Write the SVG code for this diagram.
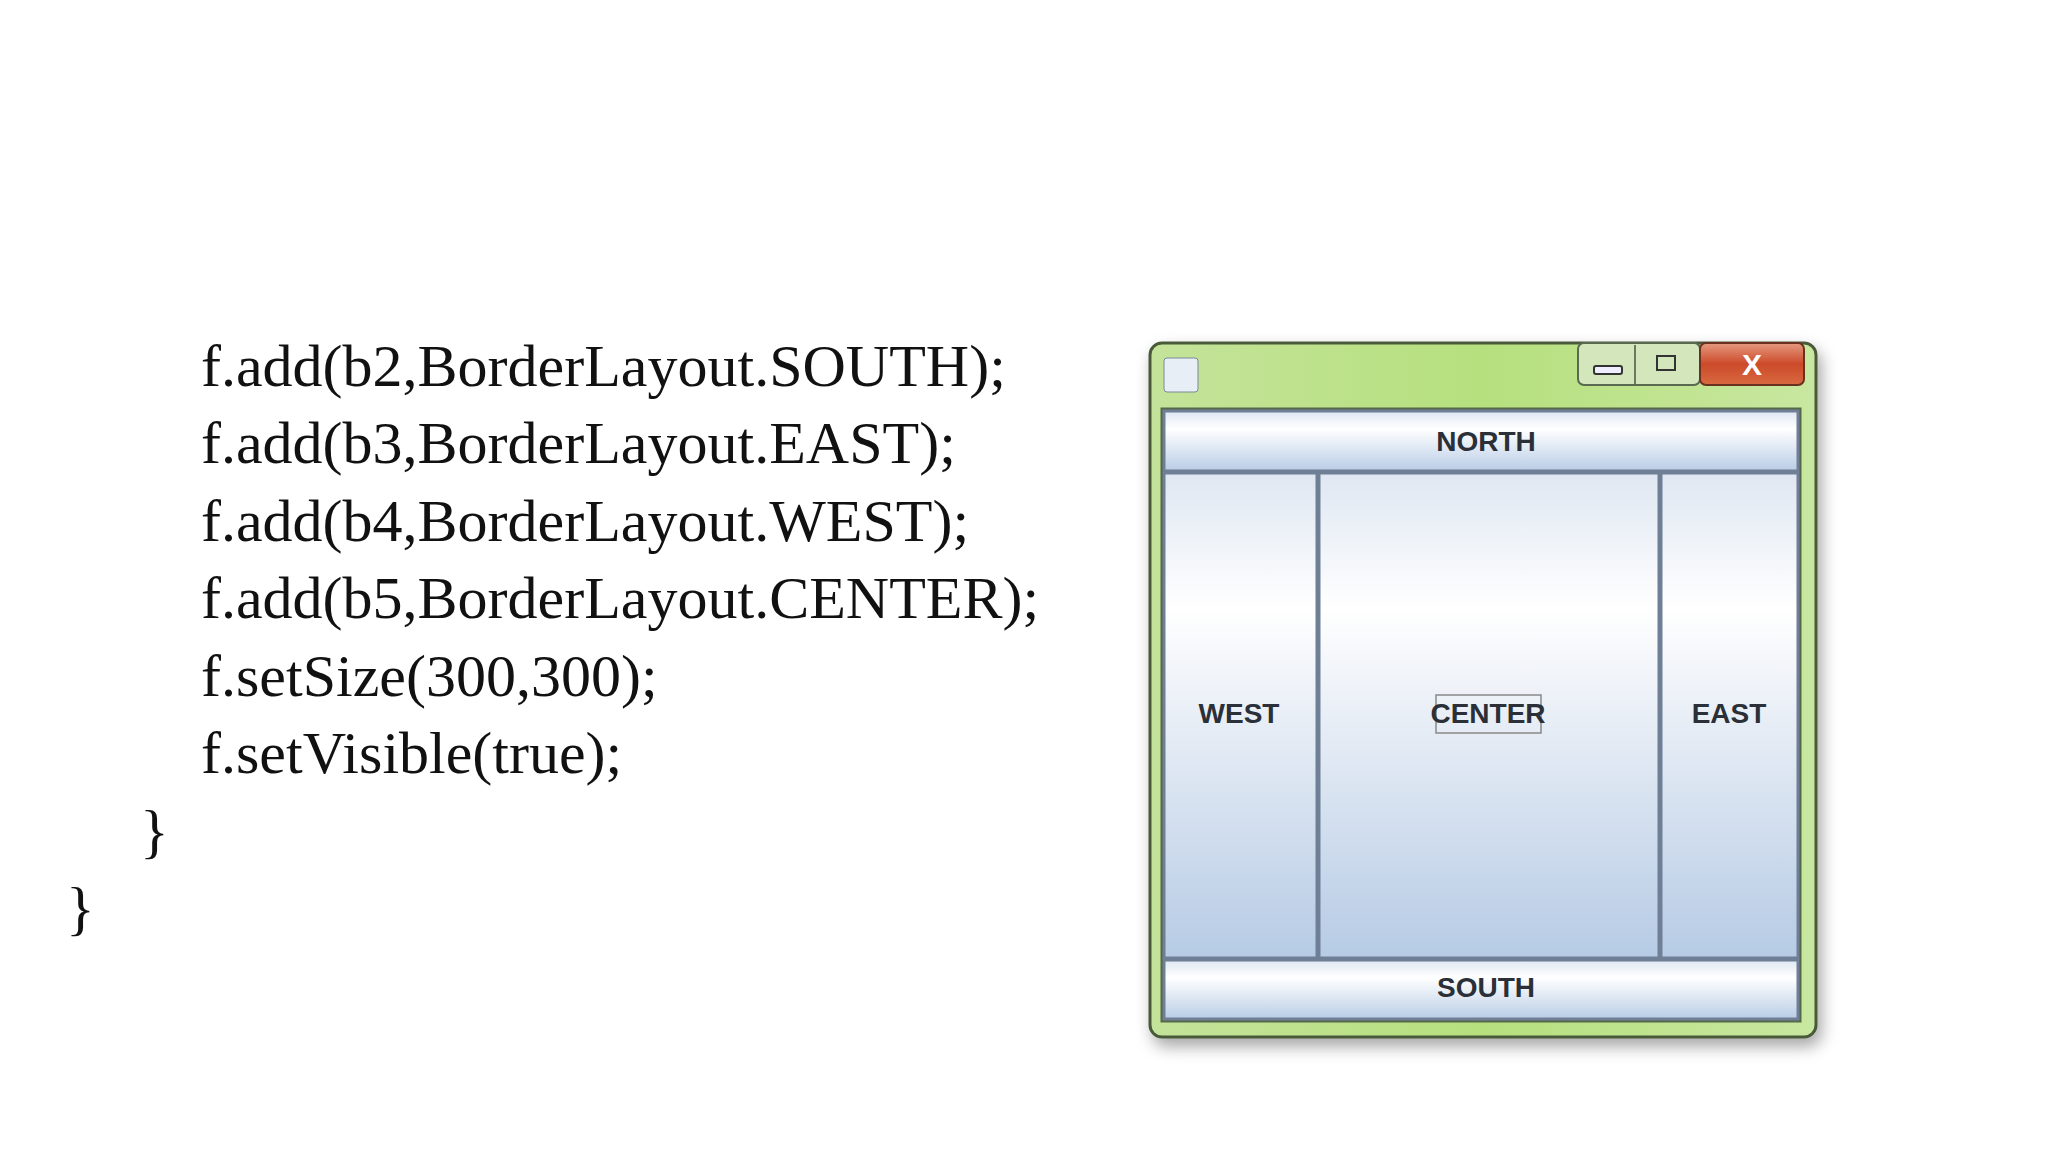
<svg xmlns="http://www.w3.org/2000/svg" width="2048" height="1152" viewBox="0 0 2048 1152">
<style>
.code{font-family:"Liberation Serif",serif;font-size:60px;fill:#111}
.lbl{font-family:"Liberation Sans",Arial,sans-serif;font-size:28px;font-weight:bold;fill:#2a2f38;text-anchor:middle}
.pane{stroke:#6e7f96;stroke-width:3}
</style>
<defs>
<linearGradient id="btn" x1="0" y1="0" x2="0" y2="1"><stop offset="0" stop-color="#dfe7f2"/><stop offset="0.3" stop-color="#ffffff"/><stop offset="1" stop-color="#b9cde6"/></linearGradient>
<linearGradient id="tall" x1="0" y1="0" x2="0" y2="1"><stop offset="0" stop-color="#dfe7f2"/><stop offset="0.28" stop-color="#ffffff"/><stop offset="0.45" stop-color="#eef2f8"/><stop offset="1" stop-color="#b6cbe5"/></linearGradient>
<linearGradient id="frame" x1="0" y1="0" x2="1" y2="0"><stop offset="0" stop-color="#c4e39a"/><stop offset="0.5" stop-color="#b6e07e"/><stop offset="1" stop-color="#c8e7a0"/></linearGradient>
<linearGradient id="close" x1="0" y1="0" x2="0" y2="1"><stop offset="0" stop-color="#e59a80"/><stop offset="0.5" stop-color="#cc4a2a"/><stop offset="1" stop-color="#d86a40"/></linearGradient>
<filter id="sh" x="-5%" y="-5%" width="115%" height="115%"><feDropShadow dx="4" dy="8" stdDeviation="8" flood-color="#000" flood-opacity="0.35"/></filter>
</defs>
<rect width="2048" height="1152" fill="#fff"/>
<g id="code">
<text class="code" x="201" y="386">f.add(b2,BorderLayout.SOUTH);</text>
<text class="code" x="201" y="463">f.add(b3,BorderLayout.EAST);</text>
<text class="code" x="201" y="541">f.add(b4,BorderLayout.WEST);</text>
<text class="code" x="201" y="618">f.add(b5,BorderLayout.CENTER);</text>
<text class="code" x="201" y="696">f.setSize(300,300);</text>
<text class="code" x="201" y="773">f.setVisible(true);</text>
<text class="code" x="140" y="851">}</text>
<text class="code" x="66" y="928">}</text>
</g>
<g id="window">
<rect x="1150" y="343" width="666" height="694" rx="12" fill="url(#frame)" stroke="#4a5a3a" stroke-width="3" filter="url(#sh)"/>
<rect x="1164" y="358" width="34" height="34" rx="3" fill="#e8eef5" stroke="#7a8a9a"/>
<rect x="1578" y="343" width="122" height="42" rx="6" fill="#d4e6bc" stroke="#5a6a50" stroke-width="2"/>
<line x1="1635" y1="345" x2="1635" y2="384" stroke="#6a7a60" stroke-width="2"/>
<rect x="1594" y="366" width="28" height="8" rx="2" fill="#eef" stroke="#333" stroke-width="2"/>
<rect x="1657" y="356" width="18" height="14" fill="none" stroke="#333" stroke-width="2"/>
<rect x="1700" y="343" width="104" height="42" rx="6" fill="url(#close)" stroke="#6a3020" stroke-width="2"/>
<text x="1752" y="375" class="lbl" style="fill:#fff;font-size:30px">X</text>
<rect x="1162" y="409" width="638" height="612" fill="#eef2f8" stroke="#56684a" stroke-width="3"/>
</g>
<g id="north"><rect class="pane" x="1164" y="411" width="634" height="60" fill="url(#btn)"/><text class="lbl" x="1486" y="451">NORTH</text></g>
<g id="west"><rect class="pane" x="1164" y="473" width="153" height="485" fill="url(#tall)"/><text class="lbl" x="1239" y="723">WEST</text></g>
<g id="center"><rect class="pane" x="1319" y="473" width="340" height="485" fill="url(#tall)"/><rect x="1436" y="695" width="105" height="38" fill="none" stroke="#888" stroke-width="1.5"/><text class="lbl" x="1488" y="723">CENTER</text></g>
<g id="east"><rect class="pane" x="1661" y="473" width="137" height="485" fill="url(#tall)"/><text class="lbl" x="1729" y="723">EAST</text></g>
<g id="south"><rect class="pane" x="1164" y="960" width="634" height="59" fill="url(#btn)"/><text class="lbl" x="1486" y="997">SOUTH</text></g>
<g id="connectors"/>
</svg>
